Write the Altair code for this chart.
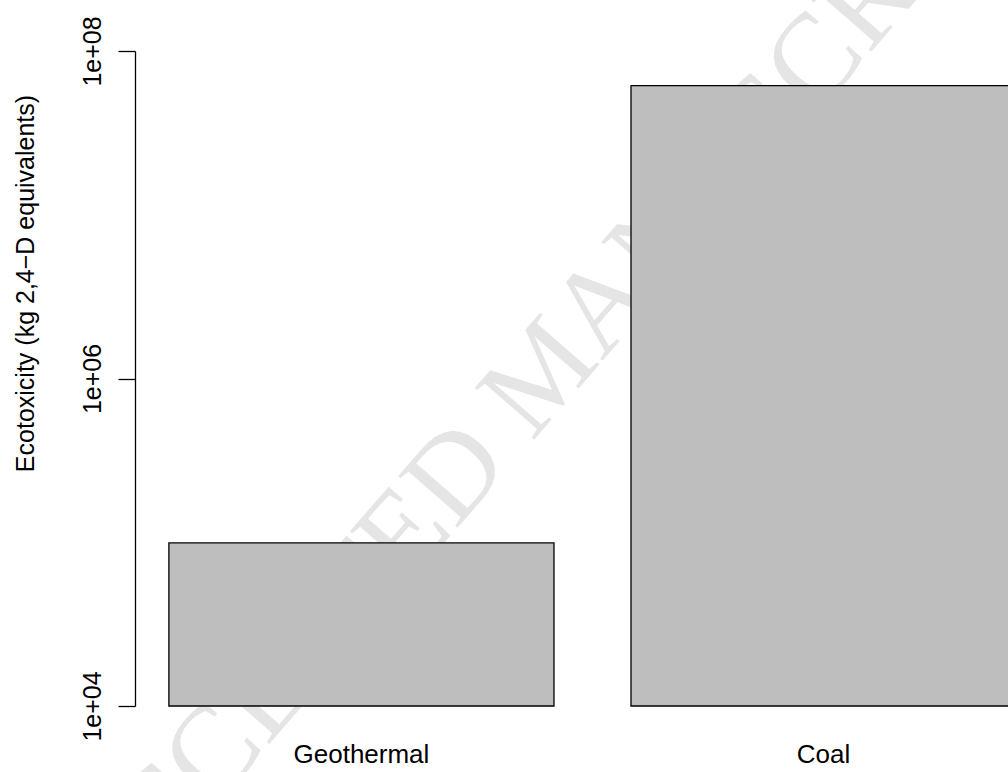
import altair as alt
import pandas as pd

# Bar chart data (log-scaled ecotoxicity impact)
CATEGORIES = ["Geothermal", "Coal"]
VALUES = [9.9e4, 6.15e7]
BAR_START = [0.2, 1.4]
BAR_END = [1.2, 2.4]

# Y-axis ticks
TICK_VALUES = [1e4, 1e6, 1e8]
TICK_LABELS = ["1e+04", "1e+06", "1e+08"]

Y_TITLE = "Ecotoxicity (kg 2,4\u2212D equivalents)"
WATERMARK = "ACCEPTED MANUSCRIPT"

BASELINE = 1e4
FONT = "Liberation Sans"

bars_df = pd.DataFrame({
    "category": CATEGORIES,
    "value": VALUES,
    "start": BAR_START,
    "end": BAR_END,
    "base": [BASELINE] * len(CATEGORIES),
})
bars_df["mid"] = (bars_df["start"] + bars_df["end"]) / 2

label_expr = " : ".join(
    f"datum.value == {v:g} ? '{t}'" for v, t in zip(TICK_VALUES, TICK_LABELS)
) + " : ''"

x_scale = alt.Scale(domain=[0.112, 2.379], nice=False, zero=False)
y_scale = alt.Scale(type="log", domain=[1e4, 1e8], nice=False)

# Faint diagonal stamp, drawn first so the bars cover it
watermark = alt.Chart(pd.DataFrame({"t": [WATERMARK]})).mark_text(
    font="Liberation Serif",
    fontSize=120,
    color="#e5e5e5",
    angle=311,
    align="center",
    baseline="middle",
).encode(
    x=alt.value(410),
    y=alt.value(321),
    text="t:N",
)

bars = alt.Chart(bars_df).mark_rect(
    fill="#bebebe",
    stroke="black",
    strokeWidth=1.3,
).encode(
    x=alt.X("start:Q", scale=x_scale, axis=None),
    x2="end:Q",
    y=alt.Y(
        "value:Q",
        scale=y_scale,
        axis=alt.Axis(
            values=TICK_VALUES,
            labelExpr=label_expr,
            title=Y_TITLE,
            grid=False,
            tickSize=17,
            tickWidth=1.3,
            tickColor="black",
            domainColor="black",
            domainWidth=1.3,
            labelPadding=18,
            labelAngle=270,
            labelAlign="center",
            labelBaseline="alphabetic",
            labelFont=FONT,
            labelFontSize=25,
            labelColor="black",
            titleFont=FONT,
            titleFontSize=25,
            titleFontWeight="normal",
            titleColor="black",
            titleAngle=270,
            titleAlign="center",
            titleBaseline="alphabetic",
            titleX=-102,
            titleY=232,
        ),
    ),
    y2="base:Q",
)

names = alt.Chart(bars_df).mark_text(
    font=FONT,
    fontSize=26,
    color="black",
    align="center",
    baseline="alphabetic",
).encode(
    x=alt.X("mid:Q", scale=x_scale, axis=None),
    y=alt.value(712),
    text="category:N",
)

chart = alt.layer(watermark, bars, names).properties(
    width=873,
    height=655,
    padding={"left": 135, "top": 51, "right": 0, "bottom": 66},
    autosize="none",
    background="white",
).configure_view(stroke=None)

chart.save("out.html", embed_options={"renderer": "svg", "actions": False})
